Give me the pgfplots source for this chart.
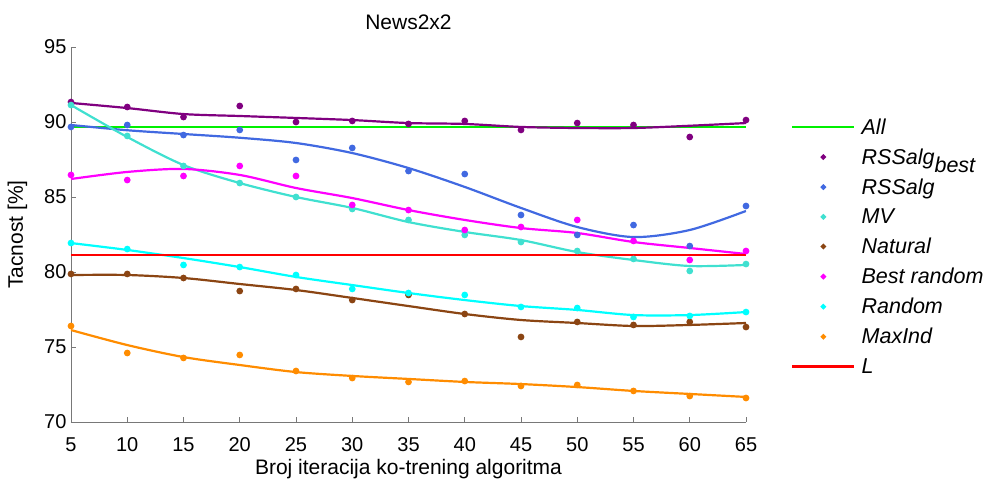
\documentclass[border=0pt]{standalone}
\usepackage{fontspec}
\setmainfont{Liberation Sans}
\usepackage{pgfplots}
\usepackage{pgfplotstable}
\pgfplotsset{compat=1.18}
\definecolor{cPurple}{RGB}{128,0,128}
\definecolor{cBlue}{RGB}{65,105,225}
\definecolor{cTurq}{RGB}{64,224,208}
\definecolor{cBrown}{RGB}{139,69,19}
\definecolor{cMag}{RGB}{255,0,255}
\definecolor{cCyan}{RGB}{0,255,255}
\definecolor{cOrange}{RGB}{255,140,0}
\definecolor{cGreen}{RGB}{0,240,0}
\definecolor{cRed}{RGB}{255,0,0}
\definecolor{cAxis}{RGB}{120,120,120}

\pgfplotstableread{
x best rss mv nat brand rand maxind
5  91.33 89.67 91.13 79.87 86.47 81.93 76.40
10 91.00 89.80 89.07 79.87 86.13 81.53 74.60
15 90.33 89.13 87.07 79.60 86.40 80.47 74.27
20 91.07 89.47 85.93 78.73 87.07 80.33 74.47
25 90.00 87.47 85.00 78.87 86.40 79.80 73.40
30 90.07 88.27 84.20 78.13 84.47 78.87 72.93
35 89.87 86.73 83.47 78.47 84.13 78.60 72.67
40 90.07 86.53 82.47 77.20 82.80 78.47 72.73
45 89.47 83.80 82.00 75.67 83.00 77.67 72.40
50 89.93 82.47 81.40 76.67 83.47 77.60 72.47
55 89.80 83.13 80.87 76.47 82.07 77.00 72.07
60 89.00 81.73 80.07 76.67 80.80 77.07 71.73
65 90.13 84.40 80.53 76.33 81.40 77.33 71.60
}\dots

\pgfplotstableread{
x best rss mv nat brand rand maxind
5  91.27 89.80 91.13 79.80 86.20 81.93 76.13
10 90.93 89.45 89.00 79.80 86.67 81.47 75.13
15 90.53 89.20 87.13 79.60 86.87 80.93 74.33
20 90.40 88.95 85.93 79.20 86.47 80.33 73.80
25 90.27 88.60 85.00 78.80 85.60 79.67 73.33
30 90.13 87.93 84.27 78.27 84.93 79.13 73.07
35 89.93 86.93 83.33 77.73 84.13 78.60 72.87
40 89.87 85.67 82.67 77.20 83.47 78.13 72.67
45 89.67 84.27 82.13 76.80 82.93 77.73 72.53
50 89.60 83.00 81.33 76.60 82.60 77.47 72.33
55 89.60 82.33 80.80 76.40 82.00 77.13 72.07
60 89.75 82.80 80.40 76.47 81.60 77.13 71.87
65 89.93 84.07 80.47 76.60 81.20 77.33 71.67
}\curves

\begin{document}
\begin{tikzpicture}
\path[use as bounding box] (-71pt,-58pt) rectangle (917pt,422pt);
\begin{axis}[
  scale only axis,
  width=675pt, height=375pt,
  xmin=5, xmax=65, ymin=70, ymax=95,
  xtick={5,10,...,65}, ytick={70,75,...,95},
  axis x line*=bottom, axis y line*=left,
  axis line style={cAxis, line width=0.8pt, -},
  tick style={cAxis, line width=0.8pt},
  tick align=inside,
  major tick length=5pt,
  /pgf/number format/assume math mode=true,
  tick label style={font=\fontsize{20}{24}\selectfont, text=black},
  xticklabel style={yshift=-12pt},
  yticklabel style={xshift=-1pt},
  title={News2x2},
  title style={font=\fontsize{21}{25}\selectfont, yshift=8pt},
  xlabel={Broj iteracija ko-trening algoritma},
  ylabel={Tacnost [\%]},
  label style={font=\fontsize{21}{25}\selectfont},
  xlabel style={yshift=-1pt},
  ylabel style={yshift=10pt},
  legend image code/.code={\draw[mark repeat=2,mark phase=2,#1] plot coordinates {(0pt,0pt) (31pt,0pt) (62pt,0pt)};},
  legend image post style={mark size=1.5pt},
  legend style={at={(1.062,0.818)}, anchor=north west, draw=none, fill=none,
    font=\fontsize{21.5}{25}\selectfont\itshape, row sep=11pt, column sep=5pt,
    nodes={inner sep=1pt}},
  legend cell align=left,
  every axis plot/.append style={line width=2.2pt},
  dotstyle/.style={only marks, mark=*, mark size=2.2pt, mark options={draw=none}},
]
\addplot[cGreen, line width=2.6pt] coordinates {(5,89.67) (65,89.67)};
\addlegendentry{All}

\addplot[dotstyle, cPurple] table[x=x,y=best] {\dots};
\addlegendentry{RSSalg$_{\textit{best}}$}
\addplot[cPurple, smooth, forget plot] table[x=x,y=best] {\curves};

\addplot[dotstyle, cBlue] table[x=x,y=rss] {\dots};
\addlegendentry{RSSalg}
\addplot[cBlue, smooth, forget plot] table[x=x,y=rss] {\curves};

\addplot[dotstyle, cTurq] table[x=x,y=mv] {\dots};
\addlegendentry{MV}
\addplot[cTurq, smooth, forget plot] table[x=x,y=mv] {\curves};

\addplot[dotstyle, cBrown] table[x=x,y=nat] {\dots};
\addlegendentry{Natural}
\addplot[cBrown, smooth, forget plot] table[x=x,y=nat] {\curves};

\addplot[dotstyle, cMag] table[x=x,y=brand] {\dots};
\addlegendentry{Best random}
\addplot[cMag, smooth, forget plot] table[x=x,y=brand] {\curves};

\addplot[dotstyle, cCyan] table[x=x,y=rand] {\dots};
\addlegendentry{Random}
\addplot[cCyan, smooth, forget plot] table[x=x,y=rand] {\curves};

\addplot[dotstyle, cOrange] table[x=x,y=maxind] {\dots};
\addlegendentry{MaxInd}
\addplot[cOrange, smooth, forget plot] table[x=x,y=maxind] {\curves};

\addplot[cRed, line width=2.6pt] coordinates {(5,81.13) (65,81.13)};
\addlegendentry{L}
\end{axis}
\end{tikzpicture}
\end{document}
